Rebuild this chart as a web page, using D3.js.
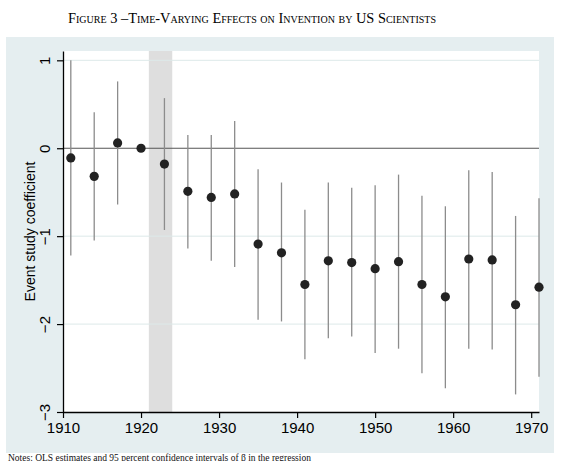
<!DOCTYPE html>
<html>
<head>
<meta charset="utf-8">
<script src="https://cdn.jsdelivr.net/npm/d3@7/dist/d3.min.js"></script>
<style>
  body { margin: 0; background: #fff; }
</style>
</head>
<body>
<script>
const width = 563;
const height = 461;

// event-study estimates, one every three years; 1920 is the reference year
const years = [1911, 1914, 1917, 1920, 1923, 1926, 1929, 1932, 1935, 1938, 1941,
  1944, 1947, 1950, 1953, 1956, 1959, 1962, 1965, 1968, 1971];
const coef = [-0.11, -0.32, 0.06, 0, -0.18, -0.49, -0.56, -0.52, -1.09, -1.19, -1.55,
  -1.28, -1.30, -1.37, -1.29, -1.55, -1.69, -1.26, -1.27, -1.78, -1.58];
const lower = [-1.22, -1.05, -0.64, null, -0.93, -1.14, -1.28, -1.35, -1.95, -1.97, -2.40,
  -2.16, -2.14, -2.33, -2.28, -2.56, -2.73, -2.28, -2.29, -2.80, -2.60];
const upper = [1.0, 0.41, 0.76, null, 0.57, 0.15, 0.15, 0.31, -0.24, -0.39, -0.70,
  -0.39, -0.45, -0.42, -0.30, -0.54, -0.66, -0.25, -0.27, -0.77, -0.57];

const shadeYears = [1921, 1924];
const xTicks = [1910, 1920, 1930, 1940, 1950, 1960, 1970];
const yTicks = [1, 0, -1, -2, -3];
const gridTicks = [1, -1, -2];

const data = years.map((y, i) => ({ year: y, b: coef[i], lo: lower[i], hi: upper[i] }));

const svg = d3.select("body")
  .append("svg")
  .attr("width", width)
  .attr("height", height);

// title
svg.append("text")
  .attr("x", 252)
  .attr("y", 23)
  .attr("text-anchor", "middle")
  .style("font-family", "'Liberation Serif', 'DejaVu Serif', serif")
  .style("font-size", "14.4px")
  .style("font-variant", "small-caps")
  .style("fill", "#000")
  .text("Figure 3 \u2013Time-Varying Effects on Invention by US Scientists");

// outer graph region
svg.append("rect")
  .attr("x", 6)
  .attr("y", 37)
  .attr("width", 548)
  .attr("height", 416)
  .attr("fill", "#e5eef0");

const plot = { left: 63, right: 539, top: 51, bottom: 412 };

const x = d3.scaleLinear().domain([1910, 1971]).range([plot.left, plot.right]);
const y = d3.scaleLinear().domain([-3, 1.106]).range([plot.bottom, plot.top]);

svg.append("rect")
  .attr("x", plot.left)
  .attr("y", plot.top)
  .attr("width", plot.right - plot.left)
  .attr("height", plot.bottom - plot.top)
  .attr("fill", "#fff");

// shaded years
svg.append("rect")
  .attr("x", x(shadeYears[0]))
  .attr("y", plot.top)
  .attr("width", x(shadeYears[1]) - x(shadeYears[0]))
  .attr("height", plot.bottom - plot.top)
  .attr("fill", "#dedede");

// gridlines
svg.append("g")
  .selectAll("line")
  .data(gridTicks)
  .join("line")
  .attr("x1", plot.left)
  .attr("x2", plot.right)
  .attr("y1", d => y(d))
  .attr("y2", d => y(d))
  .attr("stroke", "#dde9e9")
  .attr("stroke-width", 1);

// zero line
svg.append("line")
  .attr("x1", plot.left)
  .attr("x2", plot.right)
  .attr("y1", y(0))
  .attr("y2", y(0))
  .attr("stroke", "#555")
  .attr("stroke-width", 1.2);

// confidence intervals
svg.append("g")
  .selectAll("line")
  .data(data.filter(d => d.lo !== null))
  .join("line")
  .attr("x1", d => x(d.year))
  .attr("x2", d => x(d.year))
  .attr("y1", d => y(d.lo))
  .attr("y2", d => y(d.hi))
  .attr("stroke", "#8c8c8c")
  .attr("stroke-width", 1.3);

// point estimates
svg.append("g")
  .selectAll("circle")
  .data(data)
  .join("circle")
  .attr("cx", d => x(d.year))
  .attr("cy", d => y(d.b))
  .attr("r", 4.6)
  .attr("fill", "#222");

// axes
const xAxis = svg.append("g")
  .attr("transform", `translate(0,${plot.bottom})`)
  .call(d3.axisBottom(x).tickValues(xTicks).tickFormat(d3.format("d")).tickSize(6).tickSizeOuter(0).tickPadding(4));
xAxis.select(".domain").attr("stroke", "#000").attr("stroke-width", 1.3);
xAxis.selectAll(".tick line").attr("stroke", "#000").attr("stroke-width", 1.2);
xAxis.selectAll(".tick text")
  .style("font-family", "'Liberation Sans', Arial, sans-serif")
  .style("font-size", "15px")
  .attr("fill", "#000");

const yAxis = svg.append("g")
  .attr("transform", `translate(${plot.left},0)`)
  .call(d3.axisLeft(y).tickValues(yTicks).tickFormat(d3.format("d")).tickSize(6).tickSizeOuter(0));
yAxis.select(".domain").attr("stroke", "#000").attr("stroke-width", 1.3);
yAxis.selectAll(".tick line").attr("stroke", "#000").attr("stroke-width", 1.2);
yAxis.selectAll(".tick text")
  .attr("dy", null)
  .attr("transform", "rotate(-90)")
  .attr("text-anchor", "middle")
  .attr("x", 0)
  .attr("y", -13)
  .style("font-family", "'Liberation Sans', Arial, sans-serif")
  .style("font-size", "15px")
  .attr("fill", "#000");

// y axis title
svg.append("text")
  .attr("transform", `translate(35,${(plot.top + plot.bottom) / 2}) rotate(-90)`)
  .attr("text-anchor", "middle")
  .style("font-family", "'Liberation Sans', Arial, sans-serif")
  .style("font-size", "14px")
  .attr("fill", "#000")
  .text("Event study coefficient");

// notes line squeezed under the panel
svg.append("text")
  .attr("x", 8)
  .attr("y", 460.5)
  .style("font-family", "'Liberation Serif', serif")
  .style("font-size", "9.5px")
  .attr("fill", "#111")
  .text("Notes: OLS estimates and 95 percent confidence intervals of \u03b2 in the regression");
</script>
</body>
</html>
